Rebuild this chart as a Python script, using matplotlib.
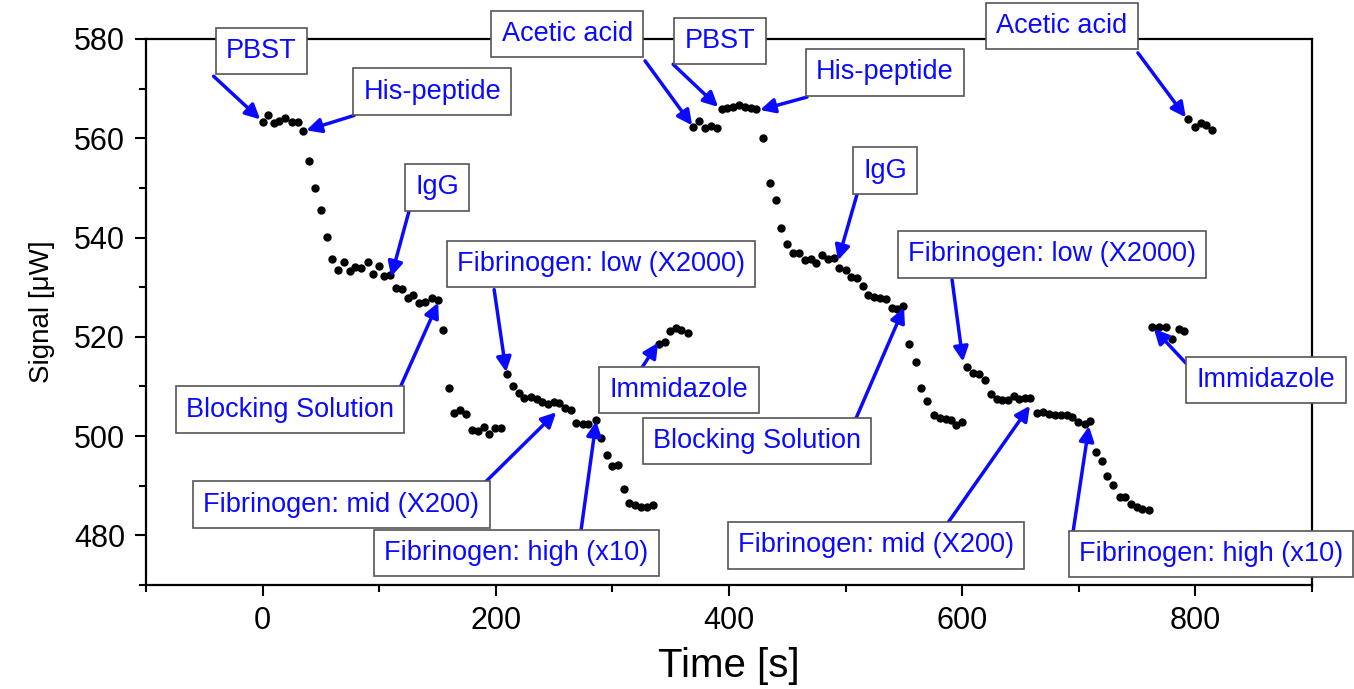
import matplotlib
matplotlib.use('Agg')
import matplotlib.pyplot as plt
from matplotlib.ticker import MultipleLocator

plt.rcParams['font.family'] = ['Liberation Sans', 'DejaVu Sans']

# run 1: PBST -> His-peptide -> IgG -> blocking
t_run1 = [0, 5, 9.5, 14.5, 19, 25, 30, 34.5, 39.5, 45, 50, 55, 59.5, 64.5, 70, 75, 79.5, 84,
          90, 95, 99.5, 104.5, 109.5, 114.5, 120, 124.5, 129, 134.5, 139.5, 145, 150.5, 154.5,
          159.5, 164.5, 169.5, 174.5, 179.5, 184.5, 189.5, 194.5, 199.5, 204.5]
s_run1 = [563.3, 564.6, 563, 563.5, 564.1, 563.2, 563.3, 561.5, 555.4, 550, 545.5, 540.1, 535.6,
          533.5, 535.1, 533.3, 534, 533.9, 535.1, 532.7, 534.3, 532.3, 532.5, 529.8, 529.6, 527.8,
          528.5, 526.9, 527.1, 527.9, 527.4, 521.4, 509.7, 504.6, 505.3, 504.5, 501.2, 501, 501.8,
          500.5, 501.7, 501.7]
# run 1: fibrinogen low / mid / high
t_fib1 = [209.5, 215, 219.5, 224.5, 230, 235, 239.5, 244.5, 250, 254.5, 259.5, 264.5, 269, 274.5,
          279.5, 286, 290, 295, 300, 305, 310, 314.5, 319.5, 324.5, 330, 335]
s_fib1 = [512.5, 510, 508.7, 507.7, 507.9, 507.5, 506.9, 506.4, 506.9, 506.6, 505.7, 505.3, 502.7,
          502.5, 502.4, 503.2, 499.7, 496.2, 493.9, 494.1, 489.4, 486.5, 486.1, 485.7, 485.7, 486.2]
t_imm1 = [340, 345, 349.5, 354.5, 359, 364.5]
s_imm1 = [518.6, 518.9, 521.2, 521.7, 521.4, 520.7]
t_acid1 = [369.5, 374.5, 379, 384.5, 390]
s_acid1 = [562.3, 563.4, 562, 562.5, 562]

# run 2
t_run2 = [394, 398.5, 403.5, 408.5, 414, 418.5, 423.5, 429.5, 435, 440, 445, 449.5, 455, 460, 465,
          470, 475, 480, 485, 490, 494.5, 500, 505, 510, 515, 519.5, 524.5, 529.5, 534.5, 539.5,
          544.5, 549.5, 554.5, 560, 564.5, 569.5, 576, 581, 586, 590.5, 595, 600]
s_run2 = [565.8, 566, 566.2, 566.7, 566.3, 566, 565.8, 560.1, 551, 547.6, 541.9, 538.6, 536.8,
          536.8, 535.4, 535.6, 534.9, 536.5, 535.7, 535.8, 533.9, 533.5, 532, 531.9, 530.3, 528.5,
          528.1, 527.9, 527.6, 525.9, 525.6, 526.3, 518.6, 514.9, 509.6, 507.1, 504.2, 503.7,
          503.5, 503.2, 502.2, 502.9]
t_fib2 = [604.5, 609.5, 614.5, 619.5, 624.5, 629.5, 634.5, 639.5, 644.5, 649, 653.5, 658.5, 664.5,
          669.5, 674.5, 679.5, 684.5, 689.5, 694.5, 699.5, 705, 710, 715, 720, 724.5, 729.5, 735,
          739.5, 744.5, 749.5, 754.5, 760]
s_fib2 = [514, 512.8, 512.5, 511.3, 508.5, 507.4, 507.2, 507.2, 508.1, 507.5, 507.7, 507.6, 504.6,
          504.9, 504.5, 504.2, 504.2, 504.2, 503.9, 502.9, 502.4, 503, 496.8, 494.9, 491.9, 490.2,
          487.7, 487.7, 486.3, 485.7, 485.4, 485.1]
t_imm2 = [763, 768.5, 774.5, 779.5, 785.5, 790.5]
s_imm2 = [521.9, 521.9, 521.9, 519.5, 521.6, 521.2]
t_acid2 = [793.5, 799.5, 804.5, 809.5, 814.5]
s_acid2 = [563.8, 562.3, 563.1, 562.6, 561.6]

# label, box centre, arrow tail, arrow tip (data coords)
notes = [
    ('PBST', (-1, 577.6), (-42, 572.5), (-2, 563.8)),
    ('His-peptide', (145.5, 569.4), (78.6, 564.6), (37.5, 561.6)),
    ('IgG', (149.8, 550.1), (125.8, 545.5), (110.3, 532.1)),
    ('Blocking Solution', (23.7, 505.3), (116.3, 508.9), (150.6, 526.9)),
    ('Fibrinogen: mid (X200)', (67.5, 486.2), (185.8, 489.5), (251.8, 504.8)),
    ('Fibrinogen: low (X2000)', (290.4, 534.7), (198.6, 529.5), (208.9, 512.9)),
    ('Fibrinogen: high (x10)', (217.5, 476.4), (272.4, 479.8), (286.1, 503)),
    ('Immidazole', (357.2, 509.3), (322.9, 512.9), (339.2, 518.8)),
    ('Acetic acid', (261.2, 581), (328, 575.6), (368.4, 562.6)),
    ('PBST', (392.4, 579.6), (352.1, 574.9), (390.7, 566.3)),
    ('His-peptide', (533.8, 573.3), (466.9, 568.3), (426.6, 565.7)),
    ('IgG', (533.8, 553.5), (509.8, 548.7), (493.5, 535.4)),
    ('Fibrinogen: low (X2000)', (677, 536.6), (591.3, 531.5), (600.7, 515)),
    ('Blocking Solution', (424.1, 499), (506.4, 502.2), (550.1, 525.9)),
    ('Fibrinogen: mid (X200)', (526.1, 478), (584.4, 481.4), (658.1, 506.1)),
    ('Fibrinogen: high (x10)', (813.3, 476.2), (694.1, 479.2), (708.7, 502)),
    ('Immidazole', (860.4, 511.3), (791.8, 514.7), (764.4, 521.6)),
    ('Acetic acid', (685.5, 582.6), (750.7, 577.2), (791.8, 564.2)),
]

fig = plt.figure(figsize=(13.54, 6.89), dpi=100)
ax = fig.add_axes([0.1078, 0.151, 0.8612, 0.7924])

for t, s in [(t_run1, s_run1), (t_fib1, s_fib1), (t_imm1, s_imm1), (t_acid1, s_acid1),
             (t_run2, s_run2), (t_fib2, s_fib2), (t_imm2, s_imm2), (t_acid2, s_acid2)]:
    ax.plot(t, s, 'o', color='black', markersize=5, zorder=3)

for label, box, tail, tip in notes:
    ax.text(box[0], box[1], label, color='#0a0aff', fontsize=19.5, ha='center', va='center',
            clip_on=False, zorder=5,
            bbox=dict(boxstyle='square,pad=0.38', fc='white', ec='#555555', lw=1.2))
    ax.annotate('', xy=tip, xytext=tail, annotation_clip=False, zorder=4,
                arrowprops=dict(arrowstyle='-|>', color='#0a0aff', lw=2.5,
                                mutation_scale=22, shrinkA=0, shrinkB=0))

ax.set_xlim(-100, 900)
ax.set_ylim(470, 580)
ax.xaxis.set_major_locator(MultipleLocator(200))
ax.xaxis.set_minor_locator(MultipleLocator(100))
ax.yaxis.set_major_locator(MultipleLocator(20))
ax.yaxis.set_minor_locator(MultipleLocator(10))
ax.tick_params(which='both', direction='out', top=False, right=False, width=1.5)
ax.tick_params(which='major', length=8, labelsize=22, pad=7)
ax.tick_params(which='minor', length=5)
for sp in ax.spines.values():
    sp.set_linewidth(1.6)

ax.set_xlabel('Time [s]', fontsize=29, labelpad=8)
ax.set_ylabel('Signal [μW]', fontsize=20, labelpad=14)

fig.savefig('out.png', dpi=100)
